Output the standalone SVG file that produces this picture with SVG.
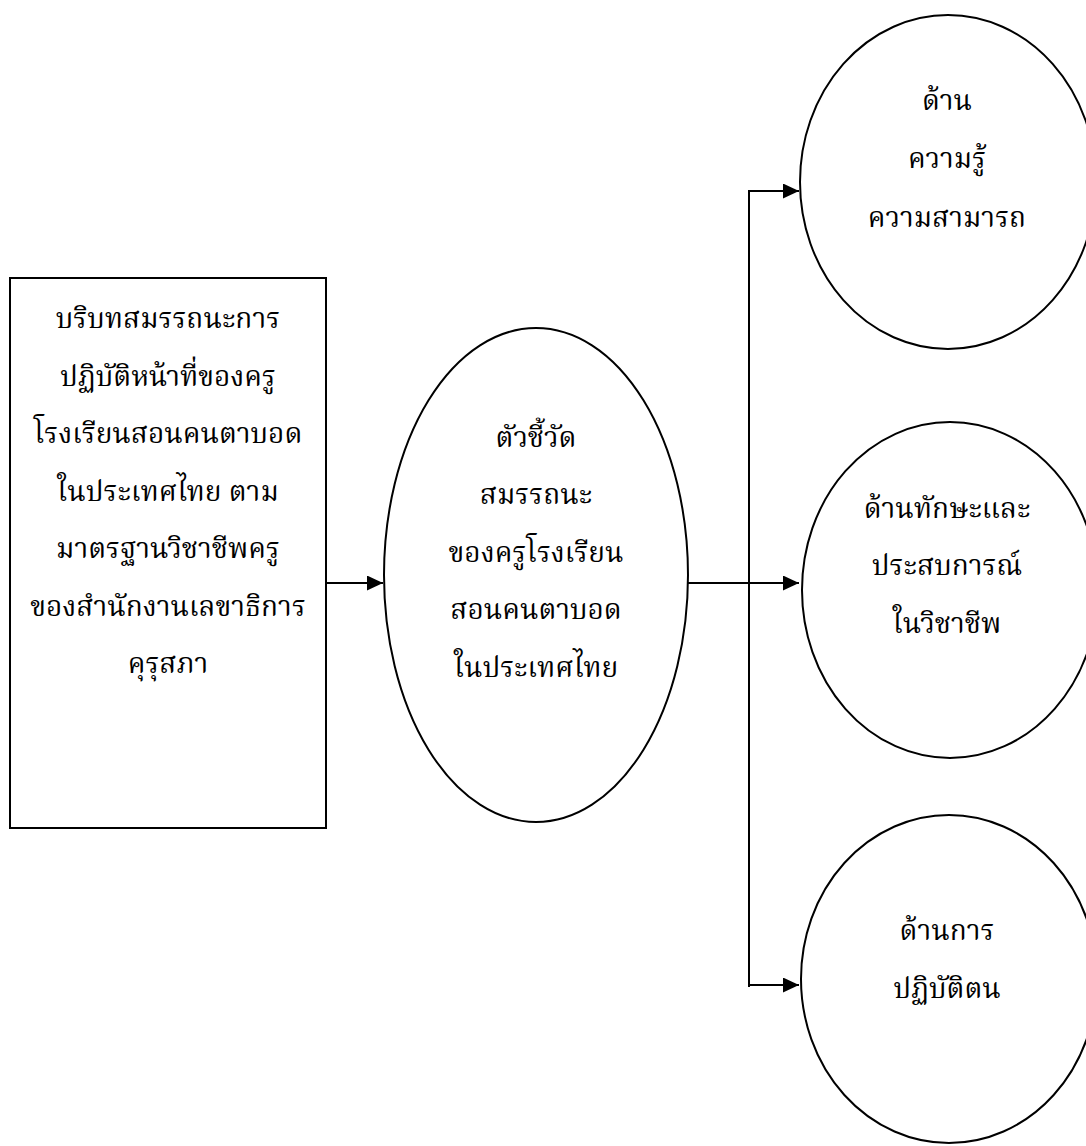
<svg xmlns="http://www.w3.org/2000/svg" width="1086" height="1146" viewBox="0 0 1086 1146">
<style>
.shape{fill:#fff;stroke:#000;stroke-width:2}
.conn{fill:none;stroke:#000;stroke-width:2}
text{font-family:"Noto Serif Thai","Noto Sans Thai","Liberation Serif","DejaVu Serif",serif;font-size:28px;fill:#000;text-anchor:middle}
</style>
<defs>
<marker id="arr" markerUnits="userSpaceOnUse" markerWidth="16" markerHeight="15" refX="16" refY="7.5" orient="auto">
<path d="M0,0 L16,7.5 L0,15 Z" fill="#000"/>
</marker>
</defs>
<rect width="1086" height="1146" fill="#fff"/>
<g id="connectors">
<line class="conn" x1="327" y1="583" x2="383" y2="583" marker-end="url(#arr)"/>
<line class="conn" x1="688" y1="583" x2="799" y2="583" marker-end="url(#arr)"/>
<line class="conn" x1="749" y1="190" x2="749" y2="987"/>
<line class="conn" x1="748" y1="191" x2="799" y2="191" marker-end="url(#arr)"/>
<line class="conn" x1="748" y1="985" x2="799" y2="985" marker-end="url(#arr)"/>
</g>
<g id="context">
<rect class="shape" x="10" y="278" width="316" height="550"/>
<text x="168" y="328">บริบทสมรรถนะการ</text>
<text x="168" y="386">ปฏิบัติหน้าที่ของครู</text>
<text x="168" y="443">โรงเรียนสอนคนตาบอด</text>
<text x="168" y="501">ในประเทศไทย ตาม</text>
<text x="168" y="558">มาตรฐานวิชาชีพครู</text>
<text x="168" y="616">ของสำนักงานเลขาธิการ</text>
<text x="168" y="673">คุรุสภา</text>
</g>
<g id="indicators">
<ellipse class="shape" cx="536" cy="575" rx="152" ry="247"/>
<text x="536" y="447">ตัวชี้วัด</text>
<text x="536" y="504">สมรรถนะ</text>
<text x="536" y="562">ของครูโรงเรียน</text>
<text x="536" y="619">สอนคนตาบอด</text>
<text x="536" y="677">ในประเทศไทย</text>
</g>
<g id="knowledge">
<ellipse class="shape" cx="948" cy="182" rx="148" ry="167"/>
<text x="947" y="110">ด้าน</text>
<text x="947" y="168">ความรู้</text>
<text x="947" y="227">ความสามารถ</text>
</g>
<g id="skills">
<ellipse class="shape" cx="950" cy="590" rx="148" ry="168"/>
<text x="947" y="518">ด้านทักษะและ</text>
<text x="947" y="575">ประสบการณ์</text>
<text x="947" y="633">ในวิชาชีพ</text>
</g>
<g id="conduct">
<ellipse class="shape" cx="949" cy="979" rx="148" ry="164"/>
<text x="947" y="940">ด้านการ</text>
<text x="947" y="998">ปฏิบัติตน</text>
</g>
</svg>
